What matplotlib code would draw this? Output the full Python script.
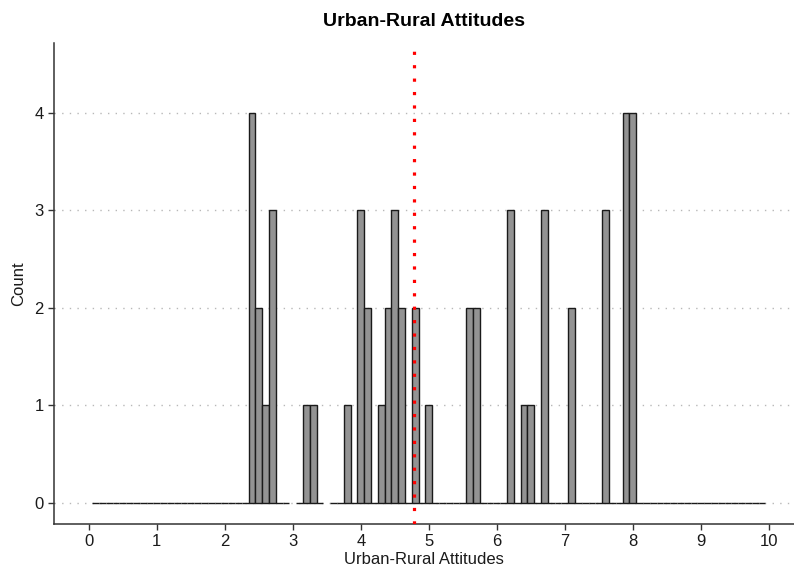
import numpy as np
import matplotlib
matplotlib.use("Agg")
import matplotlib.pyplot as plt

plt.rcParams['font.family'] = ['Liberation Sans', 'DejaVu Sans']

# Histogram of urban-rural attitude scores (bin width 0.1)
bin_width = 0.1
bin_centers = [2.4, 2.5, 2.6, 2.7, 3.2, 3.3, 3.8, 4.0, 4.1, 4.3, 4.4, 4.5, 4.6,
               4.8, 5.0, 5.6, 5.7, 6.2, 6.4, 6.5, 6.7, 7.1, 7.6, 7.9, 8.0]
counts = [4, 2, 1, 3, 1, 1, 1, 3, 2, 1, 2, 3, 2,
          2, 1, 2, 2, 3, 1, 1, 3, 2, 3, 4, 4]
# bins with no baseline segment drawn
dropped_bins = [3.0, 3.5]
x_ticks = [0, 1, 2, 3, 4, 5, 6, 7, 8, 9, 10]
y_ticks = [0, 1, 2, 3, 4]

# median score, marked with a vertical line
scores = np.repeat(bin_centers, counts)
median_score = np.median(scores)

W, H = 794, 577
fig = plt.figure(figsize=(W / 100, H / 100), dpi=100)
ax = fig.add_axes([54.3 / W, 1 - 524 / H, (794 - 54.3) / W, (524 - 43.3) / H])

# full grid of bins, zero where nothing was observed
all_centers = np.round(np.arange(0.1, 9.95, bin_width), 1)
lookup = dict(zip(bin_centers, counts))
grid_x, grid_y = [], []
for c in all_centers:
    if any(abs(c - d) < 1e-9 for d in dropped_bins):
        continue
    grid_x.append(c)
    grid_y.append(lookup.get(float(c), 0))

for yt in y_ticks:
    ax.axhline(yt, color='#b8b8b8', lw=1.0, linestyle=(0, (1, 4.5)), zorder=0)

ax.bar(grid_x, grid_y, width=bin_width, color='#939393', edgecolor='#1a1a1a',
       linewidth=1.0, zorder=2)

ax.axvline(median_score - 0.02, color='#ff0000', lw=2.3, linestyle=(0, (1, 3.2)),
           zorder=3)

ax.set_xlim(-0.507, 10.37)
ax.set_ylim(-0.22, 4.71)
ax.set_xticks(x_ticks)
ax.set_yticks(y_ticks)
ax.tick_params(axis='both', labelsize=12, colors='#333333', length=4, width=1,
               labelcolor='#1a1a1a')
ax.tick_params(axis='x', pad=3)
for side in ('top', 'right'):
    ax.spines[side].set_visible(False)
for side in ('left', 'bottom'):
    ax.spines[side].set_color('#333333')
    ax.spines[side].set_linewidth(1.1)

ax.set_xlabel('Urban-Rural Attitudes', fontsize=12, color='#1a1a1a', labelpad=2)
ax.set_ylabel('Count', fontsize=12, color='#1a1a1a', labelpad=6)
fig.text(ax.get_position().x0 + ax.get_position().width / 2, 1 - 21 / H,
         'Urban-Rural Attitudes', ha='center', va='center', fontsize=14,
         fontweight='bold', color='#000000')

fig.savefig('out.png', dpi=100)
